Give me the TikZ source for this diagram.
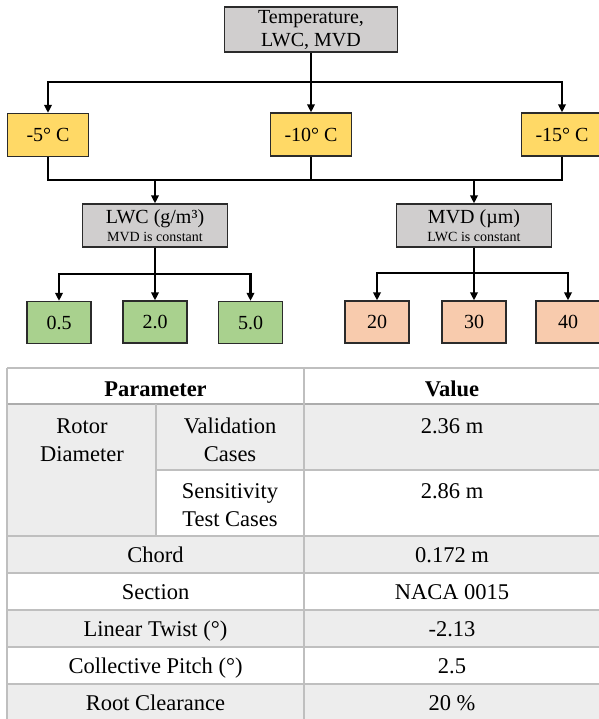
\documentclass[tikz,border=0pt]{standalone}
\usepackage{fontspec}
\setmainfont{Liberation Serif}
\usetikzlibrary{arrows.meta}
\definecolor{boxgray}{HTML}{D0CECE}
\definecolor{tempyel}{HTML}{FFD966}
\definecolor{lwcgreen}{HTML}{A9D18E}
\definecolor{mvdorange}{HTML}{F8CBAD}
\definecolor{rowgray}{HTML}{EDEDED}
\definecolor{gridgray}{HTML}{BFBFBF}
\definecolor{edgecol}{HTML}{2B2B2B}
\begin{document}
\begin{tikzpicture}[x=1pt,y=-1pt,
  box/.style={draw=edgecol, line width=1.3pt, inner sep=0pt, align=center,
    font=\fontsize{20}{23}\selectfont},
  tempbox/.style={box, fill=tempyel, minimum width=81pt, minimum height=43pt},
  midbox/.style={box, fill=boxgray, minimum height=43pt,
    font=\fontsize{20}{18}\selectfont},
  leafg/.style={box, fill=lwcgreen, minimum width=64pt, minimum height=42pt},
  leafo/.style={box, fill=mvdorange, minimum width=64pt, minimum height=42pt},
  conn/.style={line width=2.6pt, black, line join=miter},
  arr/.style={conn, -{Triangle[length=8pt,width=7.5pt]}},
  grid/.style={draw=gridgray, line width=1.2pt},
  cell/.style={inner sep=0pt, anchor=base, font=\fontsize{22.5}{28}\selectfont},
  head/.style={cell, font=\fontsize{22.5}{28}\selectfont\bfseries}
]
\useasboundingbox (0,0) rectangle (598,719);
\fill[white] (0,0) rectangle (598,719);

% ---------------- tree ----------------
\node[box, fill=boxgray, minimum width=173pt, minimum height=45pt] (temp) at (311,29.5) {Temperature,\\LWC, MVD};

\node[tempbox] (t5)  at (48,135)  {-5° C};
\node[tempbox] (t10) at (311,134.5) {-10° C};
\node[tempbox] (t15) at (562,134.5) {-15° C};

\node[midbox, minimum width=145pt] (lwc) at (155,225.5)
  {LWC (g/m³)\\{\fontsize{14}{18}\selectfont MVD is constant}};
\node[midbox, minimum width=155pt] (mvd) at (474,225.5)
  {MVD (µm)\\{\fontsize{14}{18}\selectfont LWC is constant}};

\node[leafg] (g05) at (59,322.5)  {0.5};
\node[leafg] (g20) at (155,322)   {2.0};
\node[leafg] (g50) at (250.5,322.5) {5.0};

\node[leafo] (o20) at (377,322)   {20};
\node[leafo] (o30) at (474,322)   {30};
\node[leafo] (o40) at (568,322)   {40};

\coordinate (j1) at (311,82);
\coordinate (j2) at (311,180);
\coordinate (ja) at (155,180);
\coordinate (jb) at (474,180);
\coordinate (j3) at (155,274);
\coordinate (j4) at (474,273);

\draw[conn] (temp.south) -- (j1);
\draw[arr] (j1) -| (t5.north);
\draw[arr] (j1) -- (t10.north);
\draw[arr] (j1) -| (t15.north);

\draw[conn] (t5.south) |- (j2);
\draw[conn] (t15.south) |- (j2);
\draw[conn] (t10.south) -- (j2);
\draw[arr] (ja) -- (lwc.north);
\draw[arr] (jb) -- (mvd.north);

\draw[conn] (lwc.south) -- (j3);
\draw[arr] (j3) -| (g05.north);
\draw[arr] (j3) -- (g20.north);
\draw[arr] (j3) -| (g50.north);

\draw[conn] (mvd.south) -- (j4);
\draw[arr] (j4) -| (o20.north);
\draw[arr] (j4) -- (o30.north);
\draw[arr] (j4) -| (o40.north);

% ---------------- table ----------------
\fill[rowgray] (7,404) rectangle (156,536);
\fill[rowgray] (156,404) rectangle (600,470);
\fill[rowgray] (7,536) rectangle (600,573);
\fill[rowgray] (7,610) rectangle (600,647);
\fill[rowgray] (7,684) rectangle (600,721);

\draw[grid] (7,368) -- (600,368);
\draw[grid, line width=1.8pt, draw=gridgray!90!black] (7,404) -- (600,404);
\draw[grid] (156,470) -- (600,470);
\foreach \yy in {536,573,610,647,684} \draw[grid] (7,\yy) -- (600,\yy);
\draw[grid] (7,368) -- (7,721);
\draw[grid] (304,368) -- (304,721);
\draw[grid] (156,404) -- (156,536);

\node[head] (hp) at (155.5,396) {Parameter};
\node[head] (hv) at (452,396) {Value};

\node[cell] (rd1) at (82,433) {Rotor};
\node[cell] (rd2) at (82,461) {Diameter};
\node[cell] (vc1) at (230,433) {Validation};
\node[cell] (vc2) at (230,461) {Cases};
\node[cell] (vv)  at (452,433) {2.36 m};
\node[cell] (sc1) at (230,498) {Sensitivity};
\node[cell] (sc2) at (230,526) {Test Cases};
\node[cell] (sv)  at (452,498) {2.86 m};

\node[cell] (ch)  at (155.5,562.5) {Chord};
\node[cell] (chv) at (452,562.5) {0.172 m};
\node[cell] (se)  at (155.5,599.5) {Section};
\node[cell] (sev) at (452,599.5) {NACA 0015};
\node[cell] (lt)  at (155.5,636.5) {Linear Twist (°)};
\node[cell] (ltv) at (452,636.5) {-2.13};
\node[cell] (cp)  at (155.5,673.5) {Collective Pitch (°)};
\node[cell] (cpv) at (452,673.5) {2.5};
\node[cell] (rc)  at (155.5,710.5) {Root Clearance};
\node[cell] (rcv) at (452,710.5) {20 \%};
\end{tikzpicture}
\end{document}
